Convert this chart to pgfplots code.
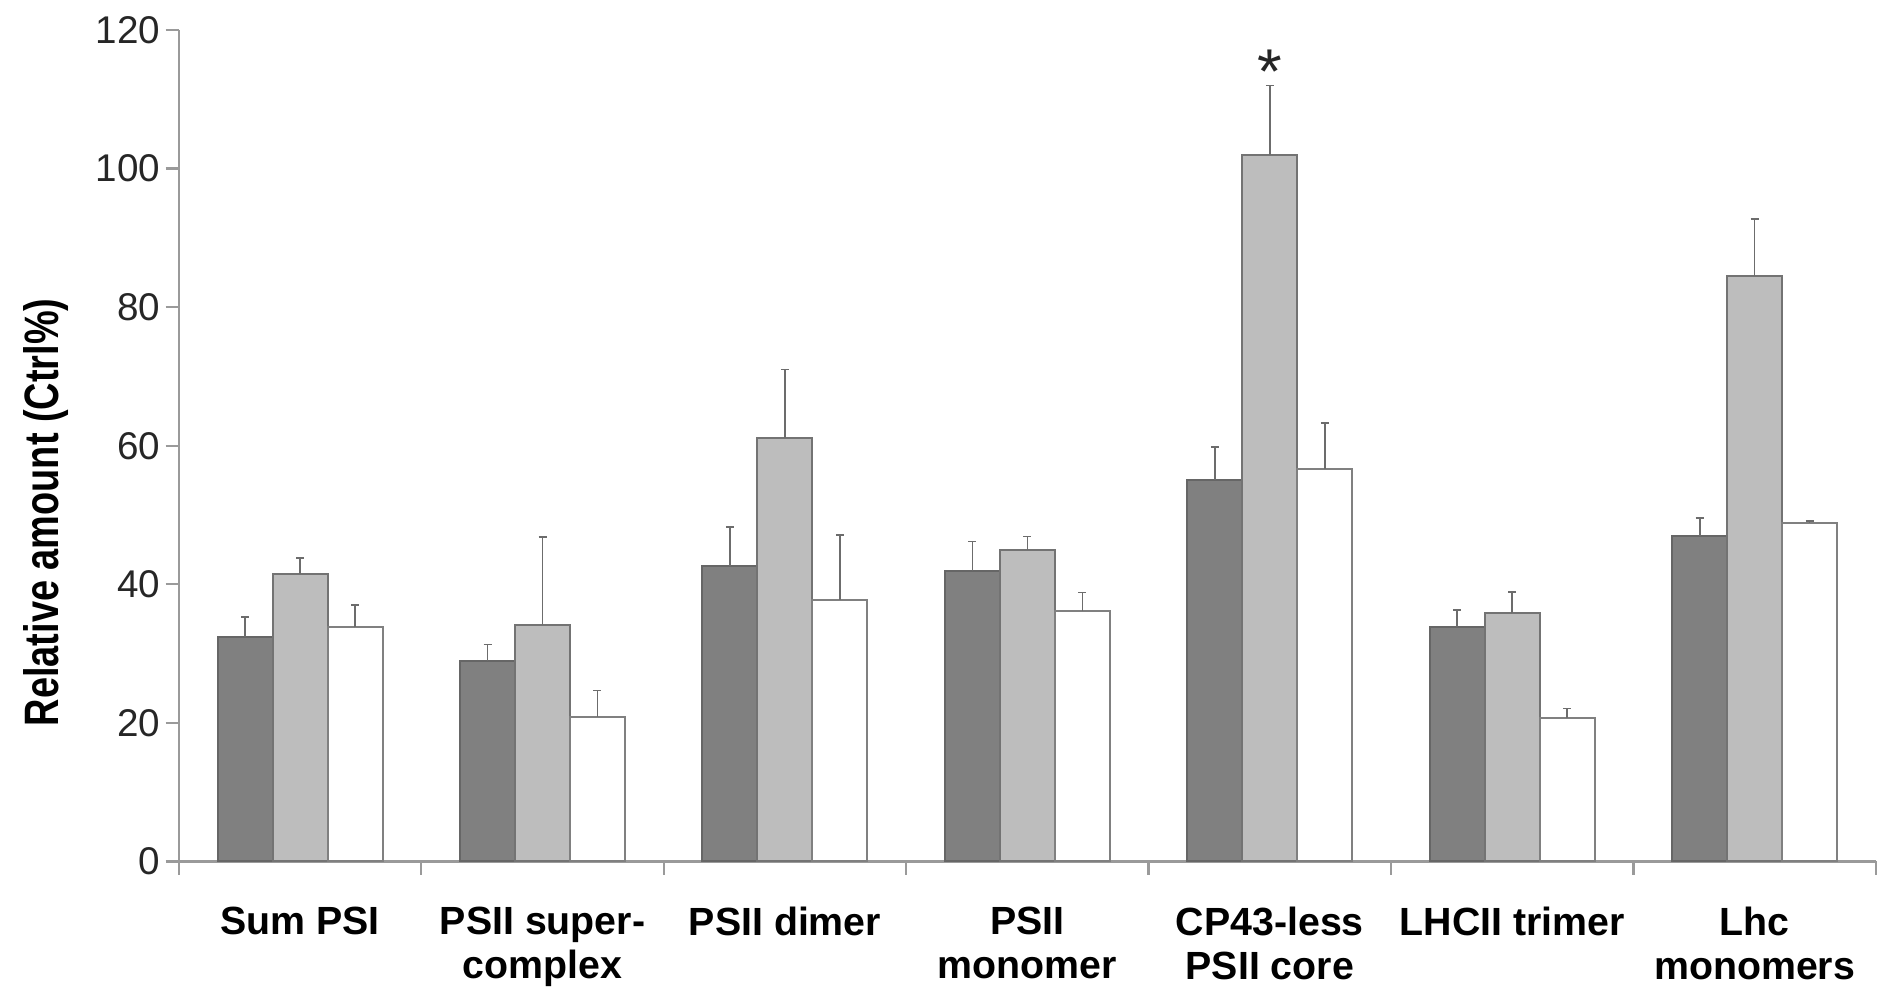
\documentclass[border=0pt]{standalone}
\usepackage{pgfplots}
\pgfplotsset{compat=1.18}
\usepackage{fontspec}
\setmainfont{Liberation Sans}
\definecolor{darkbar}{HTML}{808080}
\definecolor{lightbar}{HTML}{BDBDBD}
\definecolor{axisgray}{HTML}{9A9A9A}
\begin{document}
\begin{tikzpicture}
\begin{axis}[
  scale only axis,
  width=509.4pt, height=249.6pt,
  xmin=-0.5, xmax=6.5, ymin=0, ymax=120,
  axis x line=bottom, axis y line=left,
  axis line style={-, draw=axisgray, line width=0.7pt},
  tick align=outside,
  ytick={0,20,...,120},
  major tick length=4pt,
  minor tick length=4pt,
  y tick style={draw=axisgray, line width=0.7pt},
  xtick={0,...,6},
  x tick style={draw=none},
  minor xtick={-0.5,0.5,...,6.5},
  minor x tick style={draw=axisgray, line width=0.7pt},
  xticklabels={Sum PSI, {PSII super-\\complex}, PSII dimer, {PSII\\monomer}, {CP43-less\\PSII core}, LHCII trimer, {Lhc\\monomers}},
  xticklabel style={align=center, font=\fontsize{11.8}{13.2}\selectfont\bfseries, inner ysep=1.2pt, yshift=-8.3pt, text=black},
  yticklabel style={font=\fontsize{11.6}{13}\selectfont, text=black!85, xshift=2pt},
  /pgf/number format/assume math mode=true,
  ylabel={\scalebox{0.785}[1]{Relative amount (Ctrl\%)}},
  every axis y label/.style={at={(axis description cs:0,0.42)}, xshift=-40pt, rotate=90, anchor=center, font=\fontsize{14.5}{16}\selectfont\bfseries},
  ybar=0pt, bar width=16.5pt,
  clip=false,
  error bars/y dir=plus, error bars/y explicit,
  error bars/error bar style={line width=0.5pt, draw=gray!85!black},
  error bars/error mark options={rotate=90, mark size=1.2pt, line width=0.5pt, draw=gray!85!black},
]
\addplot[fill=darkbar, draw=black!60, line width=0.6pt] coordinates {
 (0,32.4) +- (0,2.9)
 (1,28.9) +- (0,2.4)
 (2,42.6) +- (0,5.7)
 (3,41.9) +- (0,4.3)
 (4,55.1) +- (0,4.7)
 (5,33.8) +- (0,2.5)
 (6,47.0) +- (0,2.6)
};
\addplot[fill=lightbar, draw=black!55, line width=0.6pt] coordinates {
 (0,41.5) +- (0,2.3)
 (1,34.2) +- (0,12.6)
 (2,61.1) +- (0,9.9)
 (3,45.0) +- (0,1.9)
 (4,102.0) +- (0,10.0)
 (5,35.8) +- (0,3.1)
 (6,84.5) +- (0,8.2)
};
\addplot[fill=white, draw=black!50, line width=0.6pt] coordinates {
 (0,33.8) +- (0,3.2)
 (1,20.8) +- (0,3.9)
 (2,37.7) +- (0,9.4)
 (3,36.2) +- (0,2.6)
 (4,56.7) +- (0,6.6)
 (5,20.7) +- (0,1.4)
 (6,48.8) +- (0,0.3)
};
\node[font=\fontsize{19}{19}\selectfont, text=black!85] at (axis cs:4,114) {*};
\end{axis}
\path ([xshift=-53.7pt]current axis.south west) ([xshift=-53.7pt, yshift=9pt]current axis.north west);
\end{tikzpicture}
\end{document}
